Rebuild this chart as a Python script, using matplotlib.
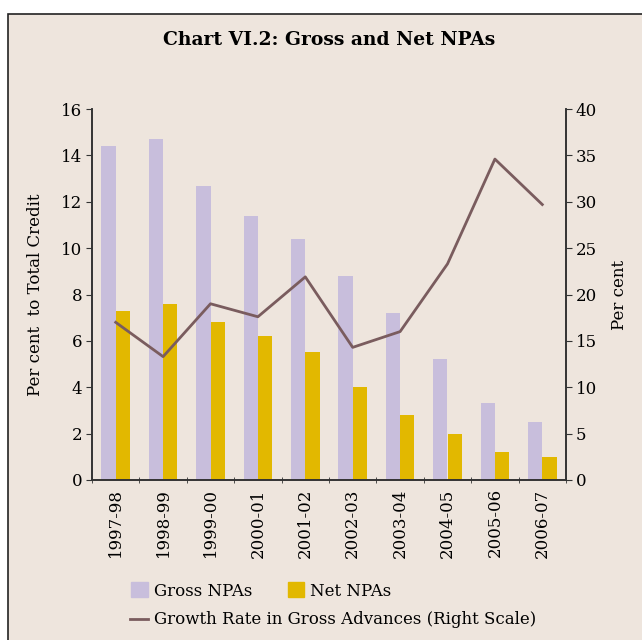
import numpy as np
import matplotlib.pyplot as plt
from matplotlib.patches import Patch, Rectangle
from matplotlib.lines import Line2D

YEARS  = ["1997-98", "1998-99", "1999-00", "2000-01", "2001-02",
          "2002-03", "2003-04", "2004-05", "2005-06", "2006-07"]
GROSS  = [14.4, 14.7, 12.7, 11.4, 10.4, 8.8, 7.2, 5.2, 3.3, 2.5]
NET    = [7.3, 7.6, 6.8, 6.2, 5.5, 4.0, 2.8, 2.0, 1.2, 1.0]
GROWTH = [17.0, 13.3, 19.0, 17.6, 21.9, 14.3, 16.0, 23.3, 34.6, 29.7]

BG        = "#EEE5DD"
C_GROSS   = "#C8BEDC"
C_NET     = "#E2B800"
C_GROWTH  = "#7A5C5E"
C_AXIS    = "#333333"
FS        = 12

plt.rcParams["font.family"] = "DejaVu Serif"

fig = plt.figure(figsize=(6.42, 6.40), dpi=100)
fig.patch.set_facecolor("white")
# framed background panel
fig.add_artist(Rectangle((8 / 642, -0.05), 1.0, 1 - 14 / 640 + 0.05,
                         transform=fig.transFigure, facecolor=BG,
                         edgecolor="#222222", linewidth=1.2, zorder=-10))

ax = fig.add_axes([92 / 642, 1 - 480 / 640, (566 - 92) / 642, (480 - 109) / 640])
ax.set_facecolor("none")

x = np.arange(len(YEARS))
w = 0.3
ax.bar(x - w / 2, GROSS, width=w, color=C_GROSS, label="Gross NPAs", zorder=2)
ax.bar(x + w / 2, NET, width=w, color=C_NET, label="Net NPAs", zorder=2)

ax.set_xlim(-0.5, len(YEARS) - 0.5)
ax.set_ylim(0, 16)
ax.set_yticks(np.arange(0, 17, 2))
ax.set_xticks(x)
ax.set_xticklabels(YEARS, rotation=90, fontsize=FS)
ax.set_xticks(np.arange(-0.5, len(YEARS), 1), minor=True)
ax.tick_params(axis="x", which="major", length=0, pad=6)
ax.tick_params(axis="x", which="minor", length=5, direction="inout", color=C_AXIS)
ax.tick_params(axis="y", labelsize=FS, length=4, color=C_AXIS, pad=3)
ax.set_ylabel("Per cent  to Total Credit", fontsize=FS, labelpad=12)

ax.spines["top"].set_visible(False)
for s in ["left", "right", "bottom"]:
    ax.spines[s].set_color(C_AXIS)
    ax.spines[s].set_linewidth(1.2)

ax2 = ax.twinx()
ax2.plot(x, GROWTH, color=C_GROWTH, linewidth=2.0, zorder=3,
         label="Growth Rate in Gross Advances (Right Scale)")
ax2.set_ylim(0, 40)
ax2.set_yticks(np.arange(0, 41, 5))
ax2.tick_params(axis="y", labelsize=FS, length=4, color=C_AXIS, pad=3)
ax2.set_ylabel("Per cent", fontsize=FS, labelpad=10)
ax2.spines["top"].set_visible(False)
for s in ["left", "right", "bottom"]:
    ax2.spines[s].set_color(C_AXIS)
    ax2.spines[s].set_linewidth(1.2)

fig.text(329 / 642, 1 - 40 / 640, "Chart VI.2: Gross and Net NPAs",
         ha="center", va="center", fontsize=13.5, fontweight="bold")

bar_handles = [Patch(color=C_GROSS), Patch(color=C_NET)]
leg1 = fig.legend(bar_handles, ["Gross NPAs", "Net NPAs"], ncol=2,
                  loc="center left", bbox_to_anchor=(116 / 642, 1 - 591 / 640),
                  frameon=False, fontsize=FS, handlelength=1.0,
                  handleheight=1.0, columnspacing=2.15, handletextpad=0.35)
leg2 = fig.legend([Line2D([], [], color=C_GROWTH, linewidth=2.0)],
                  ["Growth Rate in Gross Advances (Right Scale)"],
                  loc="center left", bbox_to_anchor=(115 / 642, 1 - 620 / 640),
                  frameon=False, fontsize=FS, handlelength=1.1,
                  handletextpad=0.35)

fig.savefig("out.png", dpi=100, facecolor=fig.get_facecolor())
